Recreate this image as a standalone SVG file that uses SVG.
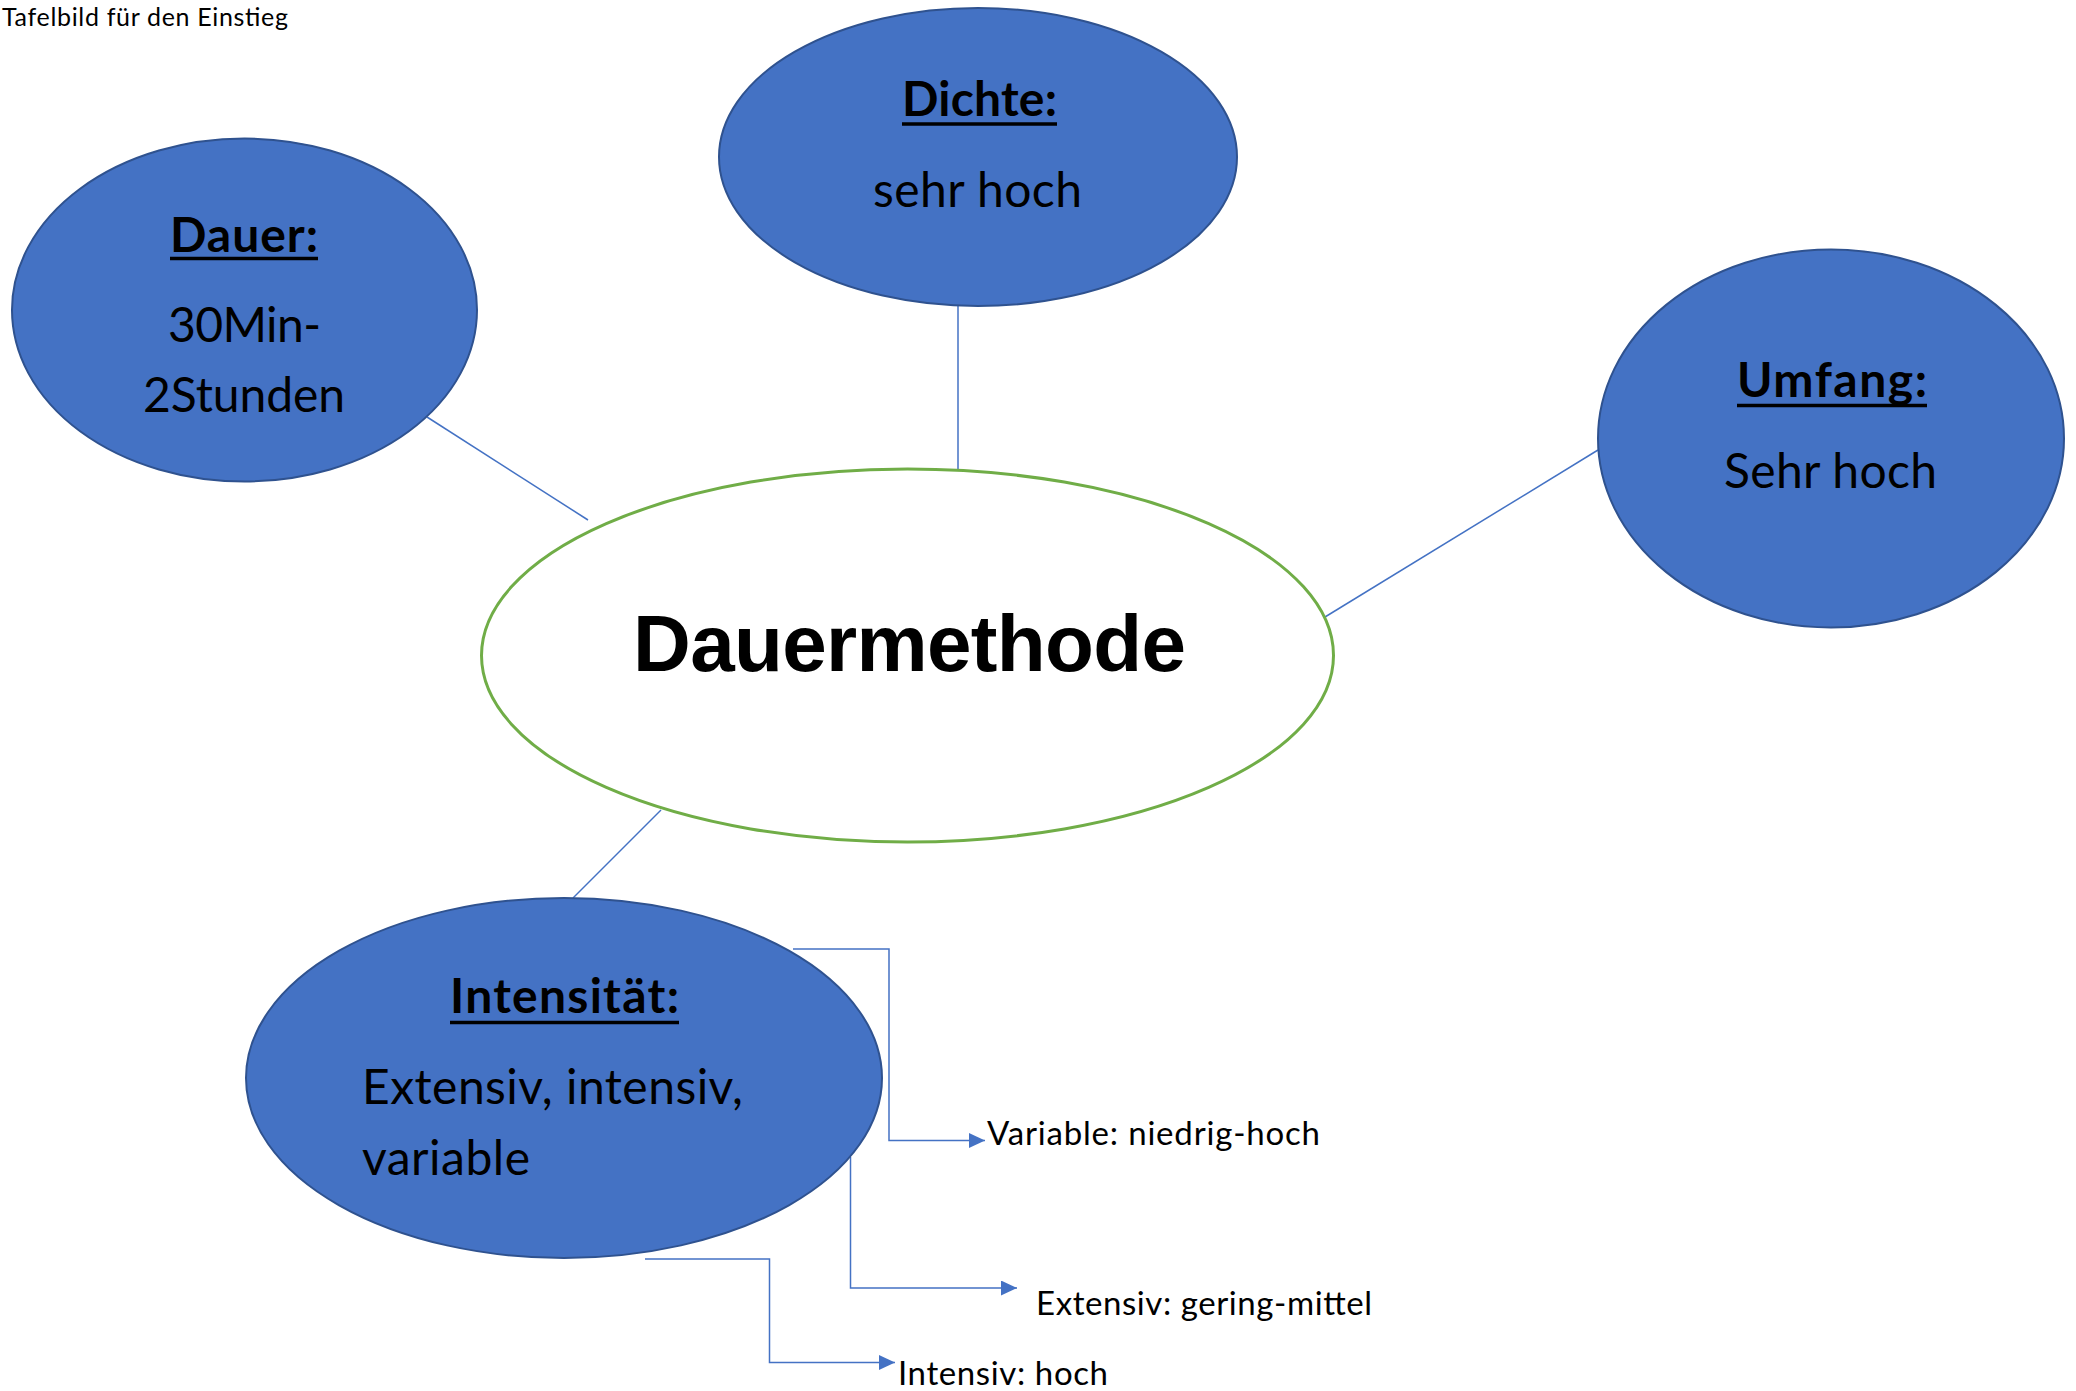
<svg xmlns="http://www.w3.org/2000/svg" width="2076" height="1391" viewBox="0 0 2076 1391">
  <style>
    .bubble { fill: #4472C4; stroke: #2F528F; stroke-width: 2; }
    .center { fill: #FFFFFF; stroke: #70AD47; stroke-width: 3; }
    .conn { fill: none; stroke: #4472C4; stroke-width: 1.5; }
    .head { font-family: Lato, "Open Sans", sans-serif; font-weight: bold; font-size: 48px; fill: #000000; text-anchor: middle; }
    .body { font-family: Lato, "Open Sans", sans-serif; font-size: 48px; fill: #000000; }
    .label { font-family: Lato, "Open Sans", sans-serif; font-size: 33px; fill: #000000; }
    .title { font-family: Lato, "Open Sans", sans-serif; font-size: 25px; fill: #000000; }
    .main { font-family: "Liberation Sans", Arial, sans-serif; font-weight: bold; font-size: 80px; fill: #000000; text-anchor: middle; }
    .ul { stroke: #000000; stroke-width: 3.5; }
  </style>
  <defs>
    <marker id="arrow" markerUnits="userSpaceOnUse" markerWidth="16" markerHeight="15" refX="16" refY="7.5" orient="auto">
      <path d="M0,0 L16,7.5 L0,15 Z" fill="#4472C4"/>
    </marker>
  </defs>
  <rect x="0" y="0" width="2076" height="1391" fill="#FFFFFF"/>

  <g id="title">
    <text class="title" x="2" y="26" textLength="286">Tafelbild für den Einstieg</text>
  </g>

  <g id="connectors">
    <line class="conn" x1="427" y1="417" x2="588" y2="520"/>
    <line class="conn" x1="958" y1="306" x2="958" y2="469"/>
    <line class="conn" x1="1598" y1="450" x2="1325" y2="617"/>
    <line class="conn" x1="661" y1="810" x2="573" y2="898"/>
    <polyline class="conn" points="793,949 889,949 889,1140.5 985,1140.5" marker-end="url(#arrow)"/>
    <polyline class="conn" points="850.5,1157 850.5,1288 1017,1288" marker-end="url(#arrow)"/>
    <polyline class="conn" points="645,1259 769.5,1259 769.5,1362.5 895,1362.5" marker-end="url(#arrow)"/>
  </g>

  <g id="node-dauer">
    <ellipse class="bubble" cx="244.5" cy="310" rx="232.5" ry="171.5"/>
    <text class="head" x="244" y="252" textLength="148">Dauer:</text>
    <line class="ul" x1="170" y1="258.5" x2="318" y2="258.5"/>
    <text class="body" x="244.5" y="342" text-anchor="middle" textLength="153">30Min-</text>
    <text class="body" x="244" y="412" text-anchor="middle" textLength="202">2Stunden</text>
  </g>

  <g id="node-dichte">
    <ellipse class="bubble" cx="978" cy="157" rx="259" ry="149"/>
    <text class="head" x="979.5" y="116" textLength="155">Dichte:</text>
    <line class="ul" x1="902" y1="124" x2="1057" y2="124"/>
    <text class="body" x="977.5" y="207" text-anchor="middle" textLength="209">sehr hoch</text>
  </g>

  <g id="node-umfang">
    <ellipse class="bubble" cx="1831" cy="438.5" rx="233" ry="189"/>
    <text class="head" x="1832" y="397" textLength="190">Umfang:</text>
    <line class="ul" x1="1737" y1="405.5" x2="1927" y2="405.5"/>
    <text class="body" x="1830.5" y="488" text-anchor="middle" textLength="213">Sehr hoch</text>
  </g>

  <g id="node-center">
    <ellipse class="center" cx="907.5" cy="655.5" rx="426" ry="186.5"/>
    <text class="main" x="909.5" y="671" textLength="553">Dauermethode</text>
  </g>

  <g id="node-intensitaet">
    <ellipse class="bubble" cx="564" cy="1078" rx="318" ry="180"/>
    <text class="head" x="564.5" y="1013" textLength="229">Intensität:</text>
    <line class="ul" x1="450" y1="1022.5" x2="679" y2="1022.5"/>
    <text class="body" x="362" y="1104" textLength="381">Extensiv, intensiv,</text>
    <text class="body" x="362" y="1175" textLength="168">variable</text>
  </g>

  <g id="label-variable">
    <text class="label" x="987" y="1145" textLength="333">Variable: niedrig-hoch</text>
  </g>
  <g id="label-extensiv">
    <text class="label" x="1036" y="1315" textLength="336">Extensiv: gering-mittel</text>
  </g>
  <g id="label-intensiv">
    <text class="label" x="898" y="1385" textLength="210">Intensiv: hoch</text>
  </g>
</svg>
